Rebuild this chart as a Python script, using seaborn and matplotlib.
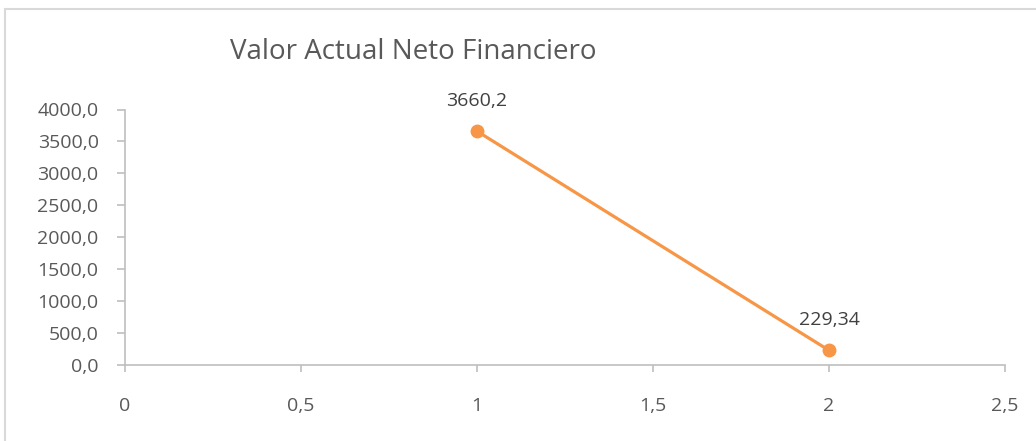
import matplotlib
matplotlib.use("Agg")
import matplotlib.pyplot as plt
import seaborn as sns
import pandas as pd
from matplotlib.patches import Rectangle

periods = [1, 2]
values = [3660.2, 229.34]
value_labels = ["3660,2", "229,34"]
x_ticks = [0, 0.5, 1, 1.5, 2, 2.5]
x_tick_labels = ["0", "0,5", "1", "1,5", "2", "2,5"]
y_ticks = [0, 500, 1000, 1500, 2000, 2500, 3000, 3500, 4000]
y_tick_labels = ["0,0", "500,0", "1000,0", "1500,0", "2000,0", "2500,0", "3000,0", "3500,0", "4000,0"]
title = "Valor Actual Neto Financiero"

sns.set_style("white")
plt.rcParams["font.family"] = ["Open Sans", "DejaVu Sans"]

df = pd.DataFrame({"x": periods, "y": values})

fig = plt.figure(figsize=(10.36, 4.41), dpi=100)
ax = fig.add_axes([125 / 1036, 1 - 365 / 441, 880 / 1036, 255.5 / 441])

orange = "#F79646"
sns.lineplot(data=df, x="x", y="y", ax=ax, color=orange, linewidth=2.3,
             marker="o", markersize=10, markeredgewidth=0, markerfacecolor=orange)

for xv, yv, lab in zip(periods, values, value_labels):
    ax.annotate(lab, (xv, yv), xytext=(0, 18), textcoords="offset points",
                ha="center", va="baseline", fontsize=14, color="#404040")

ax.set_xlim(0, 2.5)
ax.set_ylim(0, 4000)
ax.set_xticks(x_ticks)
ax.set_xticklabels(x_tick_labels)
ax.set_yticks(y_ticks)
ax.set_yticklabels(y_tick_labels)
ax.set_xlabel("")
ax.set_ylabel("")

grey = "#BFBFBF"
for s in ["top", "right"]:
    ax.spines[s].set_visible(False)
for s in ["left", "bottom"]:
    ax.spines[s].set_color(grey)
    ax.spines[s].set_linewidth(1.2)
ax.tick_params(axis="x", direction="out", length=5, width=1.2, color=grey,
               pad=18, labelsize=14, labelcolor="#595959")
ax.tick_params(axis="y", direction="out", length=6, width=1.2, color=grey,
               pad=13, labelsize=14, labelcolor="#595959")
ax.xaxis.set_ticks_position("bottom")
ax.yaxis.set_ticks_position("left")

fig.text(413 / 1036, 1 - 59 / 441, title, ha="center", va="baseline",
         fontsize=20, color="#595959")

fig.patches.append(Rectangle((5 / 1036, -0.1), 1.2, 1 - 9 / 441 + 0.1,
                             transform=fig.transFigure, fill=False,
                             edgecolor="#D9D9D9", linewidth=1.5))

fig.savefig("out.png", dpi=100, facecolor="white")
